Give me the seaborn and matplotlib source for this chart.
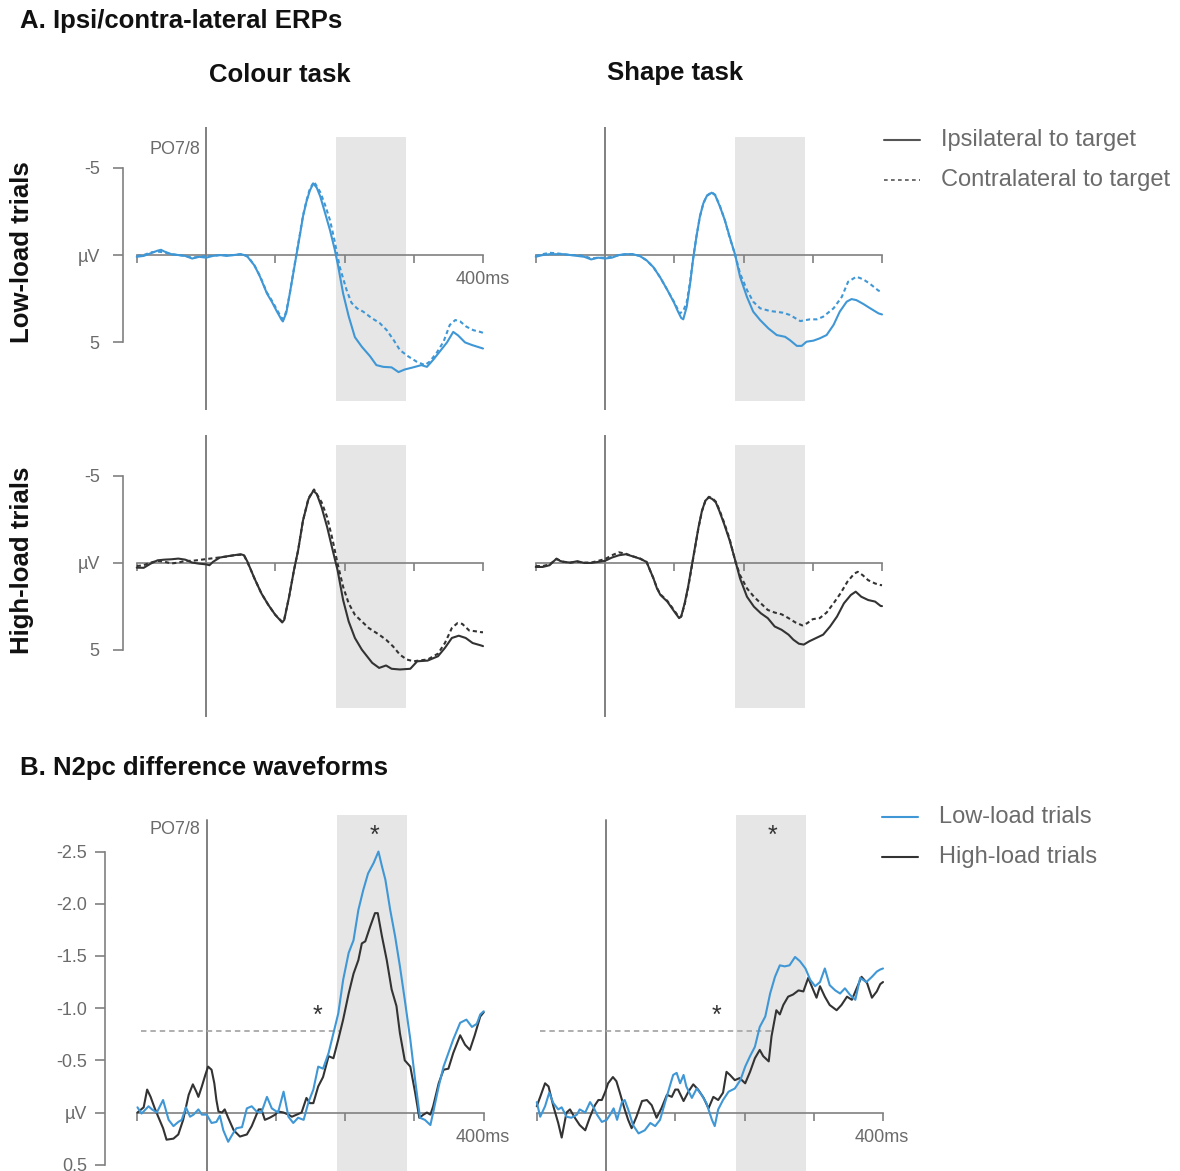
import matplotlib
matplotlib.use("Agg")
import matplotlib.pyplot as plt
from matplotlib.lines import Line2D
import pandas as pd
import seaborn as sns

# ---------------------------------------------------------------------------
# Data (time in ms, amplitude in microvolts; negative plotted upwards)
# ---------------------------------------------------------------------------
tasks = ["Colour task", "Shape task"]
loads = ["Low-load trials", "High-load trials"]
sides = ["Ipsilateral to target", "Contralateral to target"]

# Colour task, low load
t_col_low_ipsi = [-100, -90, -80, -70, -65, -60, -50, -40, -30, -20, -15, -10, 0, 10, 20, 30, 40, 50, 55, 60,
                  70, 78, 88, 95, 102, 109, 111, 116, 121, 126, 131, 136, 140, 145, 150, 155, 160, 165, 172, 179,
                  186, 191, 198, 206, 215, 225, 237, 246, 256, 268, 278, 287, 299, 311, 319, 328, 338, 348, 357, 364,
                  374, 384, 396, 400]
uv_col_low_ipsi = [0.1, 0.05, -0.1, -0.25, -0.3, -0.2, -0.05, 0.0, 0.05, 0.2, 0.15, 0.1, 0.15, 0.05, 0.0, 0.05, 0.0, -0.05, 0.0, 0.1,
                   0.6, 1.24, 2.2, 2.67, 3.2, 3.7, 3.8, 3.3, 2.2, 1.05, -0.1, -1.24, -2.2, -3.05, -3.7, -4.1, -3.85, -3.35, -2.4, -1.43,
                   -0.3, 0.67, 2.2, 3.5, 4.7, 5.25, 5.8, 6.3, 6.4, 6.43, 6.7, 6.55, 6.43, 6.3, 6.4, 6.0, 5.5, 5.0, 4.4, 4.6,
                   5.0, 5.15, 5.3, 5.35]
t_col_low_contra = [-100, -90, -80, -70, -60, -50, -40, -30, -20, -10, 0, 10, 20, 30, 40, 50, 60,
                    70, 78, 88, 95, 102, 109, 112, 116, 121, 126, 131, 136, 140, 145, 150, 156, 165, 172, 179, 186,
                    193, 203, 210, 218, 227, 239, 251, 261, 271, 280, 292, 304, 316, 323, 333, 343, 352, 360, 367, 376,
                    386, 396, 400]
uv_col_low_contra = [0.05, 0.0, -0.15, -0.2, -0.15, -0.05, 0.0, 0.05, 0.15, 0.1, 0.05, 0.05, 0.0, 0.0, 0.0, -0.05, 0.05,
                     0.6, 1.2, 2.15, 2.6, 3.1, 3.6, 3.65, 3.2, 2.2, 1.0, -0.15, -1.3, -2.25, -3.1, -3.8, -4.2, -3.6, -2.86, -2.0, -0.76,
                     0.67, 2.0, 2.73, 3.05, 3.24, 3.6, 3.9, 4.3, 4.87, 5.44, 5.8, 6.1, 6.3, 6.1, 5.6, 4.96, 4.0, 3.72, 3.8, 4.1,
                     4.3, 4.4, 4.45]

# Shape task, low load
t_shp_low_ipsi = [-100, -90, -80, -70, -60, -50, -40, -30, -20, -15, -10, 0, 10, 20, 30, 40, 50, 60, 70, 80,
                  90, 100, 105, 110, 113, 118, 123, 127, 132, 137, 142, 147, 154, 159, 166, 173, 180, 188, 195, 205,
                  214, 224, 236, 248, 260, 267, 277, 284, 291, 301, 310, 320, 330, 339, 349, 356, 363, 373, 383, 395, 400]
uv_shp_low_ipsi = [0.1, 0.0, -0.05, -0.05, -0.05, 0.0, 0.05, 0.1, 0.25, 0.2, 0.15, 0.2, 0.15, 0.0, -0.05, -0.05, 0.05, 0.3, 0.7, 1.3,
                   2.0, 2.75, 3.2, 3.6, 3.68, 2.96, 1.6, 0.3, -1.05, -2.2, -2.96, -3.38, -3.57, -3.43, -2.77, -2.0, -1.05, 0.0, 1.24, 2.4,
                   3.24, 3.72, 4.2, 4.58, 4.68, 4.87, 5.2, 5.2, 4.96, 4.9, 4.77, 4.58, 4.0, 3.24, 2.67, 2.52, 2.58, 2.8, 3.05, 3.34, 3.4]
t_shp_low_contra = [-100, -90, -80, -70, -60, -50, -40, -30, -20, -10, 0, 10, 20, 30, 40, 50, 60,
                    70, 80, 90, 100, 108, 113, 118, 123, 127, 132, 137, 142, 147, 154, 159, 166, 173, 180, 188, 195,
                    205, 214, 224, 238, 257, 267, 282, 296, 306, 315, 330, 342, 351, 363, 373, 383, 395, 400]
uv_shp_low_contra = [0.05, -0.05, -0.13, -0.1, -0.05, 0.0, 0.0, 0.05, 0.2, 0.15, 0.15, 0.1, 0.0, -0.05, -0.05, 0.05, 0.3,
                     0.7, 1.3, 2.0, 2.7, 3.34, 3.2, 2.7, 1.5, 0.25, -1.05, -2.2, -2.96, -3.4, -3.6, -3.45, -2.8, -2.0, -1.0, 0.0, 1.05,
                     2.0, 2.67, 3.05, 3.2, 3.3, 3.43, 3.78, 3.68, 3.68, 3.53, 3.05, 2.39, 1.53, 1.24, 1.39, 1.66, 2.04, 2.1]

# Colour task, high load
t_col_high_ipsi = [-100, -90, -80, -70, -60, -50, -40, -30, -20, -10, 0, 5, 10, 20, 30, 40, 50, 55, 60, 65,
                   70, 80, 90, 100, 110, 113, 120, 127, 133, 140, 148, 155, 160, 167, 175, 183, 190, 198, 206, 215,
                   225, 240, 250, 260, 268, 280, 295, 305, 320, 335, 345, 355, 365, 375, 385, 398, 400]
uv_col_high_ipsi = [0.29, 0.3, 0.06, -0.13, -0.17, -0.19, -0.23, -0.17, 0.0, 0.06, 0.1, 0.15, -0.04, -0.29, -0.36, -0.42, -0.48, -0.42, -0.04, 0.44,
                    0.91, 1.77, 2.43, 3.0, 3.44, 3.29, 1.96, 0.44, -0.7, -2.41, -3.65, -4.13, -3.94, -3.17, -2.03, -0.7, 0.44, 2.15, 3.38, 4.33,
                    5.0, 5.76, 6.05, 5.91, 6.1, 6.14, 6.1, 5.67, 5.63, 5.38, 4.9, 4.33, 4.2, 4.33, 4.62, 4.77, 4.8]
t_col_high_contra = [-100, -90, -80, -70, -60, -50, -40, -30, -20, -10, 0, 10, 20, 30, 40, 50, 55, 60, 65, 70,
                     80, 90, 100, 110, 113, 120, 127, 133, 140, 148, 156, 167, 175, 183, 190, 198, 206, 215, 225, 235,
                     250, 260, 270, 280, 290, 300, 310, 320, 335, 345, 355, 363, 370, 380, 390, 398, 400]
uv_col_high_contra = [0.2, 0.15, 0.0, -0.1, -0.05, 0.05, 0.0, -0.1, -0.1, -0.15, -0.2, -0.25, -0.3, -0.35, -0.42, -0.45, -0.4, 0.0, 0.44, 0.91,
                      1.77, 2.43, 3.0, 3.4, 3.25, 1.96, 0.44, -0.7, -2.41, -3.7, -4.2, -3.46, -2.6, -1.27, 0.06, 1.39, 2.34, 3.0, 3.38, 3.76,
                      4.14, 4.43, 4.81, 5.29, 5.57, 5.67, 5.61, 5.57, 5.23, 4.62, 3.76, 3.48, 3.52, 3.9, 3.95, 4.0, 4.0]

# Shape task, high load
t_shp_high_ipsi = [-100, -90, -80, -75, -70, -65, -60, -50, -40, -30, -20, -10, 0, 10, 20, 30, 40, 50, 60, 65,
                   70, 75, 80, 90, 100, 107, 110, 115, 120, 125, 130, 135, 140, 145, 150, 155, 160, 165, 172, 180,
                   188, 195, 205, 215, 225, 235, 245, 255, 265, 272, 280, 287, 295, 305, 315, 325, 335, 345, 355, 362,
                   370, 380, 390, 398, 400]
uv_shp_high_ipsi = [0.25, 0.25, 0.15, -0.04, -0.23, -0.1, -0.04, 0.0, -0.08, 0.02, 0.02, -0.04, -0.1, -0.29, -0.42, -0.48, -0.36, -0.23, -0.04, 0.44,
                    0.91, 1.48, 1.86, 2.24, 2.81, 3.19, 3.1, 2.34, 1.39, 0.25, -0.89, -2.03, -2.98, -3.56, -3.75, -3.65, -3.46, -2.98, -2.22, -1.27,
                    -0.13, 0.91, 1.96, 2.53, 2.91, 3.19, 3.67, 3.86, 4.14, 4.43, 4.66, 4.71, 4.52, 4.33, 4.14, 3.67, 3.1, 2.34, 1.86, 1.67,
                    1.96, 2.15, 2.24, 2.49, 2.5]
t_shp_high_contra = [-100, -90, -80, -75, -70, -60, -50, -40, -30, -20, -10, 0, 10, 20, 30, 40, 50, 60, 65, 70,
                     75, 80, 90, 100, 107, 110, 115, 120, 125, 130, 135, 140, 145, 150, 155, 160, 165, 172, 180, 188,
                     195, 205, 215, 225, 235, 245, 255, 265, 275, 285, 292, 300, 310, 320, 330, 340, 350, 360, 365, 372,
                     380, 390, 398, 400]
uv_shp_high_contra = [0.2, 0.2, 0.1, -0.05, -0.2, -0.05, 0.0, -0.05, 0.0, 0.0, -0.1, -0.2, -0.42, -0.59, -0.51, -0.36, -0.25, -0.04, 0.44, 0.91,
                      1.45, 1.82, 2.2, 2.75, 3.15, 3.1, 2.4, 1.45, 0.3, -0.85, -2.0, -2.95, -3.55, -3.78, -3.7, -3.5, -3.05, -2.3, -1.35, -0.1,
                      0.72, 1.48, 1.96, 2.34, 2.72, 2.87, 2.97, 3.19, 3.44, 3.61, 3.48, 3.25, 3.19, 2.87, 2.34, 1.77, 1.1, 0.63, 0.53, 0.72,
                      1.01, 1.2, 1.29, 1.3]

# N2pc difference waveforms (contra minus ipsi)
t_col_low_diff = [-100, -94, -84, -79, -72, -63, -55, -48, -41, -36, -30, -24, -19, -12, -7, 0, 7, 14, 19, 24,
                  31, 38, 43, 51, 58, 65, 72, 79, 87, 94, 103, 111, 118, 125, 132, 140, 147, 154, 161, 168,
                  176, 183, 190, 197, 205, 212, 219, 226, 233, 241, 248, 253, 258, 265, 272, 279, 286, 294, 301, 308,
                  315, 323, 327, 335, 342, 349, 356, 366, 375, 383, 390, 395, 400]
uv_col_low_diff = [-0.05, 0.01, -0.06, -0.03, 0.0, -0.12, 0.07, 0.13, 0.09, 0.07, -0.05, 0.04, 0.02, -0.03, 0.02, 0.02, 0.1, 0.09, 0.03, 0.17,
                   0.28, 0.2, 0.15, 0.14, -0.04, -0.06, -0.01, 0.0, -0.15, -0.04, 0.0, -0.2, 0.04, 0.1, 0.05, 0.07, -0.1, -0.22, -0.44, -0.42,
                   -0.57, -0.76, -0.95, -1.27, -1.53, -1.65, -1.94, -2.13, -2.29, -2.39, -2.5, -2.36, -2.23, -1.94, -1.69, -1.4, -1.08, -0.7, -0.31, 0.05,
                   0.07, 0.12, 0.0, -0.25, -0.44, -0.57, -0.7, -0.86, -0.89, -0.82, -0.85, -0.94, -0.97]
t_col_high_diff = [-100, -91, -86, -81, -75, -70, -63, -58, -48, -41, -34, -26, -20, -15, -12, -7, -2, 2, 7, 11,
                   14, 17, 22, 26, 31, 39, 48, 58, 65, 70, 75, 79, 84, 91, 99, 103, 111, 118, 123, 130,
                   137, 144, 149, 154, 161, 168, 176, 183, 190, 197, 205, 212, 219, 224, 229, 236, 243, 247, 253, 260,
                   267, 274, 279, 286, 294, 301, 307, 313, 318, 323, 327, 335, 342, 349, 356, 366, 373, 380, 387, 395, 400]
uv_col_high_diff = [0.0, -0.05, -0.22, -0.15, -0.04, 0.04, 0.15, 0.26, 0.25, 0.21, 0.07, -0.17, -0.27, -0.2, -0.15, -0.25, -0.36, -0.44, -0.41, -0.28,
                    -0.12, -0.01, 0.0, -0.03, 0.05, 0.17, 0.23, 0.21, 0.13, 0.05, -0.03, -0.03, 0.07, 0.05, 0.02, -0.01, 0.0, 0.02, 0.04, 0.02,
                    0.0, -0.14, -0.09, -0.09, -0.25, -0.34, -0.54, -0.52, -0.7, -0.89, -1.14, -1.33, -1.46, -1.62, -1.64, -1.78, -1.91, -1.91, -1.69, -1.46,
                    -1.18, -1.02, -0.76, -0.5, -0.44, -0.19, 0.05, 0.02, 0.0, 0.02, -0.06, -0.28, -0.41, -0.42, -0.57, -0.74, -0.65, -0.6, -0.74, -0.92, -0.96]
t_shp_low_diff = [-100, -95, -88, -82, -76, -69, -64, -57, -50, -42, -38, -30, -23, -18, -13, -6, 1, 6, 11, 16,
                  23, 27, 32, 39, 47, 56, 64, 71, 78, 85, 92, 97, 102, 107, 112, 116, 124, 131, 138, 145,
                  153, 157, 162, 169, 177, 186, 194, 201, 208, 215, 222, 230, 237, 244, 251, 258, 265, 273, 280, 288,
                  295, 302, 309, 316, 323, 331, 338, 345, 352, 360, 367, 376, 384, 391, 396, 400]
uv_shp_low_diff = [-0.1, 0.04, -0.06, -0.19, -0.09, -0.03, -0.05, 0.04, 0.05, 0.02, -0.03, 0.0, -0.1, -0.05, 0.02, 0.09, 0.07, 0.02, -0.04, 0.07,
                   -0.1, -0.12, -0.03, 0.12, 0.2, 0.17, 0.1, 0.13, 0.07, -0.09, -0.25, -0.36, -0.38, -0.28, -0.36, -0.25, -0.14, -0.23, -0.17, -0.09,
                   0.07, 0.13, -0.03, -0.12, -0.2, -0.23, -0.31, -0.44, -0.54, -0.63, -0.82, -0.92, -1.14, -1.3, -1.41, -1.4, -1.41, -1.49, -1.45, -1.38,
                   -1.27, -1.21, -1.25, -1.38, -1.22, -1.17, -1.14, -1.19, -1.13, -1.08, -1.29, -1.25, -1.3, -1.35, -1.37, -1.38]
t_shp_high_diff = [-100, -95, -88, -83, -76, -69, -64, -57, -52, -45, -38, -30, -23, -16, -11, -6, -1, 3, 10, 15,
                   20, 27, 32, 37, 44, 52, 59, 66, 73, 80, 88, 95, 100, 104, 112, 119, 126, 133, 141, 148,
                   155, 162, 169, 174, 179, 186, 193, 201, 208, 215, 222, 227, 235, 239, 246, 251, 256, 263, 270, 278,
                   285, 292, 297, 304, 309, 316, 323, 333, 340, 348, 355, 362, 369, 377, 384, 391, 396, 400]
uv_shp_high_diff = [-0.06, -0.15, -0.28, -0.25, -0.06, 0.1, 0.24, 0.0, -0.03, 0.05, 0.12, 0.17, 0.04, -0.07, -0.12, -0.12, -0.2, -0.28, -0.34, -0.3,
                    -0.19, -0.03, 0.07, 0.15, 0.04, -0.11, -0.12, -0.07, 0.05, -0.04, -0.17, -0.15, -0.22, -0.22, -0.11, -0.2, -0.27, -0.22, -0.14, -0.04,
                    -0.15, -0.12, -0.19, -0.39, -0.36, -0.31, -0.33, -0.28, -0.39, -0.52, -0.6, -0.54, -0.49, -0.73, -0.98, -0.94, -1.03, -1.11, -1.13, -1.17,
                    -1.16, -1.29, -1.21, -1.1, -1.21, -1.11, -1.03, -0.98, -1.03, -1.11, -1.08, -1.19, -1.3, -1.24, -1.1, -1.16, -1.23, -1.25]

# Analysis window, onset criterion and significance markers
n2pc_window = (188, 289)
onset_criterion = -0.78
criterion_end = [192, 240]          # ms, per task
onset_star_times = [160, 159]
peak_star_times = [242, 241]

# ---------------------------------------------------------------------------
# Figure
# ---------------------------------------------------------------------------
sns.set_theme(style="white")
plt.rcParams["font.family"] = ["Liberation Sans", "DejaVu Sans"]

W, H, DPI = 1180, 1171, 100
fig = plt.figure(figsize=(W / DPI, H / DPI), dpi=DPI)

AX_GRAY = "#808080"
TXT_GRAY = "#6b6b6b"
BLUE = "#3f97d5"
DARK = "#333333"
SHADE = "#e6e6e6"


def fx(x):
    return x / W


def fy(y):
    return 1 - y / H


def px_axes(left, top, right, bottom):
    return fig.add_axes([fx(left), fy(bottom), (right - left) / W, (bottom - top) / H])


XLIM_A, YLIM_A = (-120, 402), (8.87, -7.33)
XLIM_B, YLIM_B = (-147, 402), (0.56, -2.85)
XTICKS = [-100, 100, 200, 300, 400]


def style_axes(ax, xlim, ylim, yticks=None, ylabels=None, ypad=5.0):
    ax.set_xlim(xlim)
    ax.set_ylim(ylim)
    ax.patch.set_alpha(0)
    ax.grid(False)
    ax.set_xlabel("")
    ax.set_ylabel("")
    for s in ("top", "right"):
        ax.spines[s].set_visible(False)
    bottom = ax.spines["bottom"]
    bottom.set_position(("data", 0))
    bottom.set_bounds(-100, 400)
    bottom.set_color(AX_GRAY)
    bottom.set_linewidth(1.2)
    ax.set_xticks(XTICKS)
    ax.set_xticklabels([])
    ax.tick_params(axis="x", bottom=True, direction="out", length=6, width=1.2, color=AX_GRAY)
    left = ax.spines["left"]
    if yticks is None:
        left.set_visible(False)
        ax.set_yticks([])
    else:
        left.set_bounds(min(yticks), max(yticks))
        left.set_color(AX_GRAY)
        left.set_linewidth(1.2)
        ax.set_yticks(yticks)
        ax.set_yticklabels(ylabels)
        ax.tick_params(axis="y", left=True, direction="out", length=7.2, width=1.2, color=AX_GRAY,
                       labelcolor=TXT_GRAY, labelsize=13, pad=ypad)


def erp_panel(ax, t_ipsi, v_ipsi, t_contra, v_contra, color, show_y):
    ax.axvspan(*n2pc_window, ymin=0.032, ymax=0.965, color=SHADE, lw=0, zorder=0)
    ax.axvline(0, color=AX_GRAY, lw=1.4, zorder=1)
    df = pd.DataFrame({
        "time": t_ipsi + t_contra,
        "uv": v_ipsi + v_contra,
        "side": [sides[0]] * len(t_ipsi) + [sides[1]] * len(t_contra),
    })
    sns.lineplot(data=df, x="time", y="uv", style="side", style_order=sides,
                 dashes={sides[0]: "", sides[1]: (2, 1.5)}, color=color, lw=1.5,
                 estimator=None, legend=False, ax=ax, zorder=3)
    if show_y:
        style_axes(ax, XLIM_A, YLIM_A, [-5, 0, 5], ["-5", "µV", "5"], ypad=9.5)
    else:
        style_axes(ax, XLIM_A, YLIM_A)


def diff_panel(ax, t_low, v_low, t_high, v_high, k, show_y):
    ax.axvspan(*n2pc_window, color=SHADE, lw=0, zorder=0)
    ax.axvline(0, ymax=0.986, color=AX_GRAY, lw=1.4, zorder=1)
    ax.hlines(onset_criterion, -95, criterion_end[k], colors="#a8a8a8", lw=1.3,
              linestyles=(0, (3, 2.2)), zorder=1)
    df = pd.DataFrame({
        "time": t_high + t_low,
        "uv": v_high + v_low,
        "load": [loads[1]] * len(t_high) + [loads[0]] * len(t_low),
    })
    sns.lineplot(data=df, x="time", y="uv", hue="load", hue_order=[loads[1], loads[0]],
                 palette={loads[0]: BLUE, loads[1]: DARK}, lw=1.5,
                 estimator=None, legend=False, ax=ax, zorder=3)
    for tt, lvl in ((onset_star_times[k], -0.86), (peak_star_times[k], -2.58)):
        ax.text(tt, lvl, "*", ha="center", va="baseline", fontsize=18, color=DARK)
    if show_y:
        style_axes(ax, XLIM_B, YLIM_B, [-2.5, -2.0, -1.5, -1.0, -0.5, 0.0, 0.5],
                   ["-2.5", "-2.0", "-1.5", "-1.0", "-0.5", "µV", "0.5"], ypad=5.5)
    else:
        style_axes(ax, XLIM_B, YLIM_B)


# Section A: ipsi/contralateral ERPs
a11 = px_axes(122.9, 127, 484.4, 410)
a12 = px_axes(521.9, 127, 883.4, 410)
a21 = px_axes(122.9, 435, 484.4, 717)
a22 = px_axes(521.9, 435, 883.4, 717)
erp_panel(a11, t_col_low_ipsi, uv_col_low_ipsi, t_col_low_contra, uv_col_low_contra, BLUE, True)
erp_panel(a12, t_shp_low_ipsi, uv_shp_low_ipsi, t_shp_low_contra, uv_shp_low_contra, BLUE, False)
erp_panel(a21, t_col_high_ipsi, uv_col_high_ipsi, t_col_high_contra, uv_col_high_contra, DARK, True)
erp_panel(a22, t_shp_high_ipsi, uv_shp_high_ipsi, t_shp_high_contra, uv_shp_high_contra, DARK, False)

# Section B: difference waveforms
b1 = px_axes(104.9, 815, 485.1, 1171)
b2 = px_axes(504.2, 815, 884.4, 1171)
diff_panel(b1, t_col_low_diff, uv_col_low_diff, t_col_high_diff, uv_col_high_diff, 0, True)
diff_panel(b2, t_shp_low_diff, uv_shp_low_diff, t_shp_high_diff, uv_shp_high_diff, 1, False)

# Panel annotations
for y in (150, 829):
    fig.text(fx(200), fy(y), "PO7/8", ha="right", va="center", fontsize=13, color=TXT_GRAY)
for x, y in ((483, 280), (483, 1137), (882, 1137)):
    fig.text(fx(x), fy(y), "400ms", ha="center", va="center", fontsize=13, color=TXT_GRAY)

# Headings
BOLD = dict(fontsize=18.5, fontweight="bold", color="#111111")
fig.text(fx(20), fy(21), "A. Ipsi/contra-lateral ERPs", ha="left", va="center", **BOLD)
fig.text(fx(280), fy(75), tasks[0], ha="center", va="center", **BOLD)
fig.text(fx(675), fy(73), tasks[1], ha="center", va="center", **BOLD)
fig.text(fx(22), fy(252), loads[0], ha="center", va="center", rotation=90, **BOLD)
fig.text(fx(22), fy(560), loads[1], ha="center", va="center", rotation=90, **BOLD)
fig.text(fx(20), fy(768), "B. N2pc difference waveforms", ha="left", va="center", **BOLD)

# Legends
LEG_GRAY = "#555555"
fig.add_artist(Line2D([fx(884), fx(920)], [fy(140), fy(140)], color=LEG_GRAY, lw=1.5,
                      transform=fig.transFigure))
fig.add_artist(Line2D([fx(884), fx(920)], [fy(180), fy(180)], color=LEG_GRAY, lw=1.2,
                      linestyle=(0, (2.2, 2.0)), transform=fig.transFigure))
fig.text(fx(941), fy(140), sides[0], ha="left", va="center", fontsize=17, color=TXT_GRAY)
fig.text(fx(941), fy(180), sides[1], ha="left", va="center", fontsize=17, color=TXT_GRAY)

fig.add_artist(Line2D([fx(882), fx(918)], [fy(817), fy(817)], color=BLUE, lw=1.5,
                      transform=fig.transFigure))
fig.add_artist(Line2D([fx(882), fx(918)], [fy(857), fy(857)], color=DARK, lw=1.5,
                      transform=fig.transFigure))
fig.text(fx(939), fy(817), loads[0], ha="left", va="center", fontsize=17, color=TXT_GRAY)
fig.text(fx(939), fy(857), loads[1], ha="left", va="center", fontsize=17, color=TXT_GRAY)

fig.savefig("out.png", dpi=DPI, facecolor="white")
